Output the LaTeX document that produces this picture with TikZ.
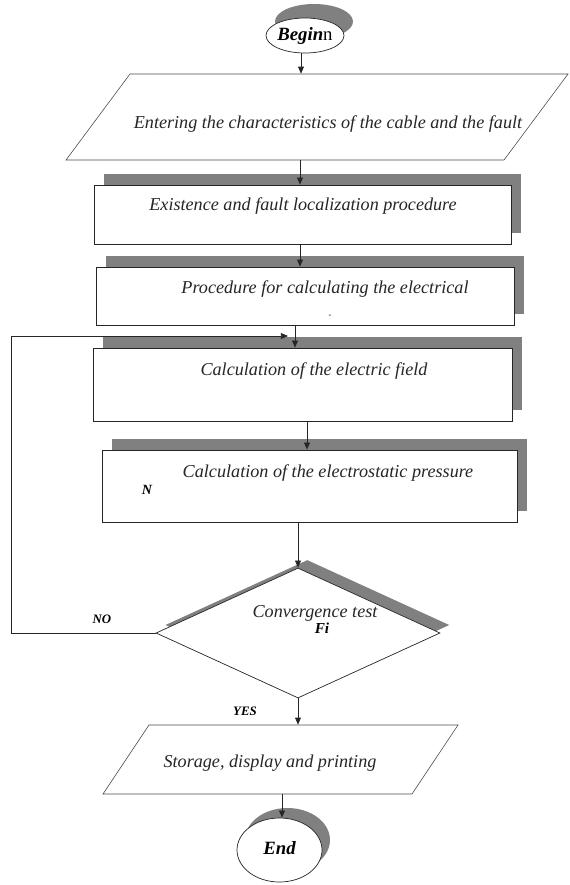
\documentclass[tikz,border=0pt]{standalone}
\usepackage{fontspec}
\setmainfont{Liberation Serif}
\usetikzlibrary{shapes.geometric, arrows.meta, shadows}

\begin{document}
\begin{tikzpicture}[x=0.03cm, y=-0.03cm]
    \tikzset{
        flow/.style={-{Triangle[length=6pt, width=5pt]}, line width=0.6pt, draw=black!85},
        stepbox/.style={
                rectangle, draw=black!85, line width=0.6pt, fill=white, inner sep=0pt,
                general shadow={fill=gray, shadow xshift=0.3cm, shadow yshift=0.33cm}
            },
        iobox/.style={
                rectangle, draw=black!70, line width=0.5pt, fill=white, inner sep=0pt
            },
        terminal/.style={
                ellipse, draw=black!85, line width=0.6pt, fill=white, inner sep=0pt
            },
        step text/.style={font=\fontsize{15.5}{18}\selectfont\itshape, text=black!85},
        flag text/.style={font=\fontsize{11}{13}\selectfont\bfseries\itshape}
    }
    \useasboundingbox (0,0) rectangle (570,885);

    % start
    \node[terminal, minimum width=2.34cm, minimum height=1.05cm,
        general shadow={fill=gray, shadow xshift=0.27cm, shadow yshift=0.42cm}]
        (begin) at (305, 35.5) {};
    \node[font=\fontsize{16}{18}\selectfont] (begintext) at (305, 35.5) {\textbf{\textit{Begin}}n};

    % input data
    \node[iobox, xslant=0.744, minimum width=13.14cm, minimum height=2.58cm] (input) at (317, 117) {};
    \node[step text] (inputtext) at (328, 124) {Entering the characteristics of the cable and the fault};

    % procedures
    \node[stepbox, minimum width=12.51cm, minimum height=1.77cm] (locate) at (302.5, 214.5) {};
    \node[step text] (locatetext) at (303, 206) {Existence and fault localization procedure};

    \node[stepbox, minimum width=12.54cm, minimum height=1.74cm] (elec) at (305, 296) {};
    \node[step text] (electext) at (325, 289) {Procedure for calculating the electrical};
    \node[font=\scriptsize] (elecdash) at (330, 316) {-};

    \node[stepbox, minimum width=12.57cm, minimum height=2.19cm] (field) at (302.5, 384.5) {};
    \node[step text] (fieldtext) at (314, 371) {Calculation of the electric field};

    \node[stepbox, minimum width=12.45cm, minimum height=2.16cm] (press) at (309.5, 486) {};
    \node[step text] (presstext) at (328, 473) {Calculation of the electrostatic pressure};
    \node[flag text, font=\fontsize{12}{14}\selectfont\bfseries\itshape] (presslabel) at (147, 490) {N};

    % convergence test
    \node[diamond, draw=black!85, line width=0.6pt, fill=white, inner sep=0pt, aspect=2.1,
        minimum width=8.52cm, minimum height=3.9cm,
        general shadow={fill=gray, shadow xshift=0.28cm, shadow yshift=0.24cm}]
        (test) at (298, 633) {};
    \node[step text] (testtext) at (315, 613) {Convergence test};
    \node[flag text, font=\fontsize{13}{15}\selectfont\bfseries\itshape] (testvar) at (322, 628) {Fi};
    \node[flag text] (nolabel) at (102, 619) {NO};
    \node[flag text] (yeslabel) at (245, 711) {YES};

    % output
    \node[iobox, xslant=0.667, minimum width=9.27cm, minimum height=2.07cm] (output) at (280.5, 759.5) {};
    \node[step text] (outputtext) at (270, 763) {Storage, display and printing};

    % end
    \node[terminal, minimum width=2.55cm, minimum height=1.92cm,
        general shadow={fill=gray, shadow xshift=0.24cm, shadow yshift=0.3cm}]
        (end) at (279.5, 850) {};
    \node[font=\fontsize{16}{18}\selectfont\bfseries\itshape] (endtext) at (279.5, 848) {End};

    % connectors
    \draw[flow] (begin.south -| 301,0) -- (input.north -| 301,0);
    \draw[flow] (input.south -| 300,0) -- (locate.north -| 300,0);
    \draw[flow] (locate.south -| 300,0) -- (elec.north -| 300,0);
    \draw[flow] (elec.south -| 295,0) -- (field.north -| 295,0);
    \draw[flow] (field.south -| 307,0) -- (press.north -| 307,0);
    \draw[flow] (press.south -| 298,0) -- (test.north);
    \draw[flow] (test.south) -- (output.north -| 298,0);
    \draw[flow] (output.south -| 282,0) -- (end.north -| 282,0);

    % back to the field calculation
    \coordinate (loopend) at (288, 336);
    \draw[flow] (test.west) -- (11, 633) |- (loopend);
\end{tikzpicture}
\end{document}
